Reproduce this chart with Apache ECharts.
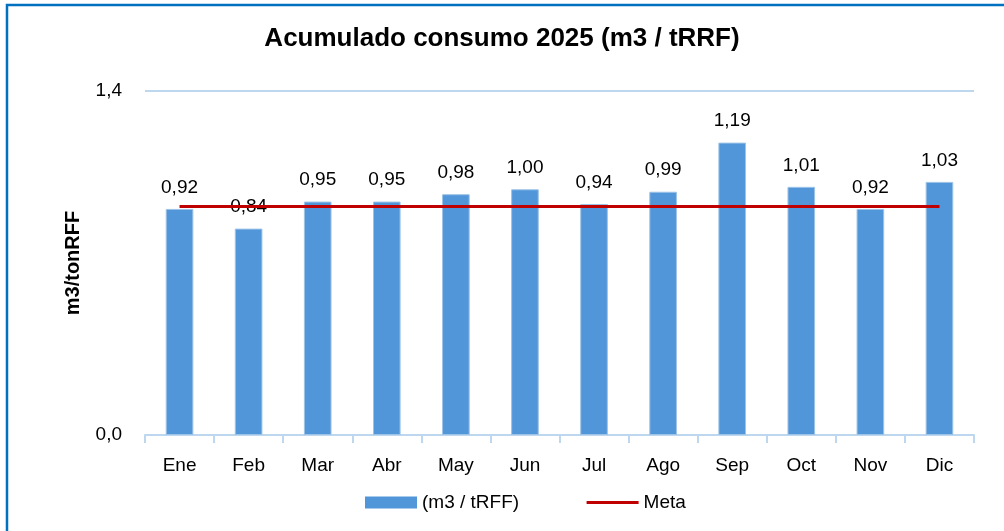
<!DOCTYPE html>
<html>
<head>
<meta charset="utf-8">
<script src="https://cdn.jsdelivr.net/npm/echarts@6/dist/echarts.min.js"></script>
<style>
html,body{margin:0;padding:0;background:#fff;}
#c{width:1004px;height:531px;}
</style>
</head>
<body>
<div id="c"></div>
<script>
const categories = ['Ene','Feb','Mar','Abr','May','Jun','Jul','Ago','Sep','Oct','Nov','Dic'];
const consumo = [0.92, 0.84, 0.95, 0.95, 0.98, 1.00, 0.94, 0.99, 1.19, 1.01, 0.92, 1.03];
const meta = [0.93, 0.93, 0.93, 0.93, 0.93, 0.93, 0.93, 0.93, 0.93, 0.93, 0.93, 0.93];
const yTicks = [0, 1.4];

const FONT = '"Liberation Sans Narrow", "Arial Narrow", "Liberation Sans", Arial, sans-serif';
const fmt = v => v.toFixed(2).replace('.', ',');

const chart = echarts.init(document.getElementById('c'));
chart.setOption({
  animation: false,
  textStyle: {fontFamily: FONT},
  title: {
    text: 'Acumulado consumo 2025 (m3 / tRRF)',
    left: 'center', top: 21,
    textStyle: {fontFamily: FONT, fontSize: 26, fontWeight: 'bold', color: '#000'}
  },
  graphic: [{
    type: 'polyline',
    shape: {points: [[7, 531], [7, 5], [1004, 5]]},
    style: {stroke: '#0070C0', lineWidth: 2.5, fill: null}
  }],
  legend: {
    bottom: 14, left: 360,
    itemWidth: 52, itemHeight: 12, itemGap: 66,
    textStyle: {fontFamily: FONT, fontSize: 19, color: '#000'},
    data: [
      {name: '(m3 / tRFF)', icon: 'rect', itemStyle: {borderWidth: 0}},
      {name: 'Meta', itemStyle: {opacity: 0}, lineStyle: {width: 3, color: '#C00000'}}
    ]
  },
  grid: {left: 145, right: 30, top: 91, bottom: 96},
  xAxis: {
    type: 'category',
    data: categories,
    axisLine: {lineStyle: {color: '#BDD7EE', width: 2}},
    axisTick: {show: true, length: 8, lineStyle: {color: '#BDD7EE', width: 2}},
    axisLabel: {fontFamily: FONT, fontSize: 19, color: '#000', margin: 21}
  },
  yAxis: {
    type: 'value',
    min: yTicks[0], max: yTicks[1], interval: yTicks[1] - yTicks[0],
    name: 'm3/tonRFF',
    nameLocation: 'middle', nameGap: 62, nameRotate: 90,
    nameTextStyle: {fontFamily: FONT, fontSize: 20, fontWeight: 'bold', color: '#000'},
    axisLine: {show: false},
    axisTick: {show: false},
    axisLabel: {fontFamily: FONT, fontSize: 19, color: '#000', margin: 23,
      formatter: v => v.toFixed(1).replace('.', ',')},
    splitLine: {lineStyle: {color: '#BDD7EE', width: 2}}
  },
  series: [{
    name: '(m3 / tRFF)',
    type: 'bar',
    data: consumo,
    barWidth: '40%',
    itemStyle: {color: '#5296DA', borderColor: '#9DC3E6', borderWidth: 1},
    label: {show: true, position: 'top', distance: 12, fontFamily: FONT, fontSize: 19, color: '#000',
      formatter: p => fmt(p.value)},
    z: 2
  }, {
    name: 'Meta',
    type: 'line',
    data: meta,
    symbol: 'none',
    lineStyle: {color: '#C00000', width: 3},
    itemStyle: {color: '#C00000'},
    z: 3
  }]
});
</script>
</body>
</html>
